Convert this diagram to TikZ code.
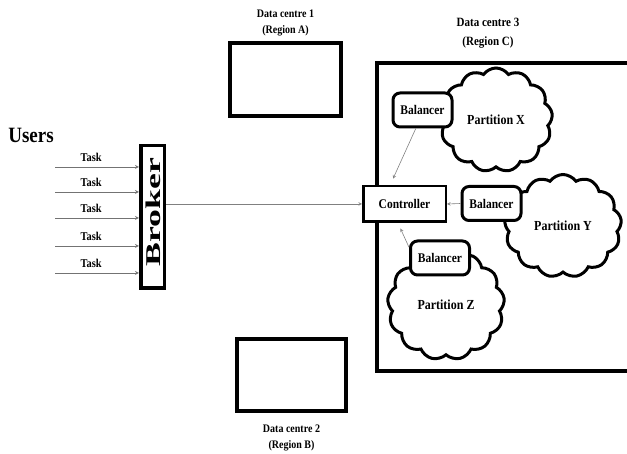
\documentclass[tikz,border=0pt]{standalone}
\usepackage{fontspec}
\setmainfont{Liberation Serif}
\usetikzlibrary{positioning, shapes.symbols}

\newcommand{\tall}[1]{\scalebox{1}[1.15]{#1}}

\tikzset{
  lbl/.style={font=\bfseries\fontsize{11.5}{13}\selectfont, inner sep=0pt},
  dclbl/.style={font=\bfseries\fontsize{10}{15.5}\selectfont, align=center, inner sep=0pt},
  dcbox/.style={draw, line width=4pt, inner sep=0pt},
  balbox/.style={draw, line width=3pt, rounded corners=7pt, fill=white,
    minimum width=59pt, minimum height=34pt, lbl},
  partcloud/.style={cloud, draw, line width=3pt, fill=white, cloud puffs=13,
    cloud puff arc=110, inner sep=0pt, font=\bfseries\fontsize{12}{14}\selectfont},
  taskarrow/.style={->, black!55, line width=0.8pt},
  link/.style={->, black!50, line width=0.6pt}
}

\begin{document}
\begin{tikzpicture}[x=1pt, y=-1pt, >=stealth]
    \useasboundingbox (0,0) rectangle (627,454);

    % -- Users, taches et broker --
    \node[font=\bfseries\fontsize{19}{21}\selectfont, inner sep=0pt] (users) at (31,135) {\tall{Users}};

    \node[draw, line width=3.5pt, minimum width=23.5pt, minimum height=142.5pt, inner sep=0pt] (broker) at (152.5,217) {};
    \node[font=\bfseries\fontsize{21}{23}\selectfont, inner sep=0pt, rotate=90] (brokertxt) at (153.5,212) {\scalebox{1.7}[1]{Broker}};

    \foreach \y [count=\i] in {167,192,218,246,273} {
        \coordinate (t\i) at (55,\y);
        \draw[taskarrow] (t\i) -- (t\i -| broker.west)
            node[lbl, pos=0.43, above=5pt, text=black, font=\bfseries\fontsize{10.4}{12}\selectfont] {\tall{Task}};
    }

    % -- Data centres --
    \node[dcbox, minimum width=111pt, minimum height=73pt] (dc1) at (285.5,79.5) {};
    \node[dclbl, above=5pt of dc1] (dc1lbl) {\tall{Data centre 1}\\\tall{(Region A)}};

    \node[dcbox, minimum width=109pt, minimum height=72pt] (dc2) at (291.5,375) {};
    \node[dclbl, below=12pt of dc2] (dc2lbl) {\tall{Data centre 2}\\\tall{(Region B)}};

    \node[dcbox, minimum width=252pt, minimum height=308pt] (dc3) at (503,217) {};
    \node[dclbl, font=\bfseries\fontsize{11}{19.5}\selectfont] (dc3lbl) at (488,33) {\tall{Data centre 3}\\\tall{(Region C)}};

    % -- Partitions (nuages) --
    \node[partcloud, minimum width=113pt, minimum height=104pt] (px) at (496,120) {\tall{Partition X}};
    \node[partcloud, minimum width=117pt, minimum height=103pt] (py) at (563,226) {\tall{Partition Y}};
    \node[partcloud, minimum width=117pt, minimum height=110pt] (pz) at (446,305) {\tall{Partition Z}};

    % -- Controller et balancers --
    \node[draw, line width=2.5pt, fill=white, minimum width=82.5pt, minimum height=35.5pt, lbl] (ctrl) at (404.5,204) {\tall{Controller}};
    \node[balbox] (balx) at (422.5,110) {\tall{Balancer}};
    \node[balbox] (baly) at (491.5,203.5) {\tall{Balancer}};
    \node[balbox] (balz) at (440,258) {\tall{Balancer}};

    \draw[link] (ctrl.west -| broker.east) -- (ctrl.west);
    \draw[link, shorten >=7pt] (balx.250) -- (ctrl.127);
    \draw[link] (baly.west) -- (ctrl.east);
    \draw[link, shorten >=6pt] (balz.161) -- (ctrl.251);
\end{tikzpicture}
\end{document}
